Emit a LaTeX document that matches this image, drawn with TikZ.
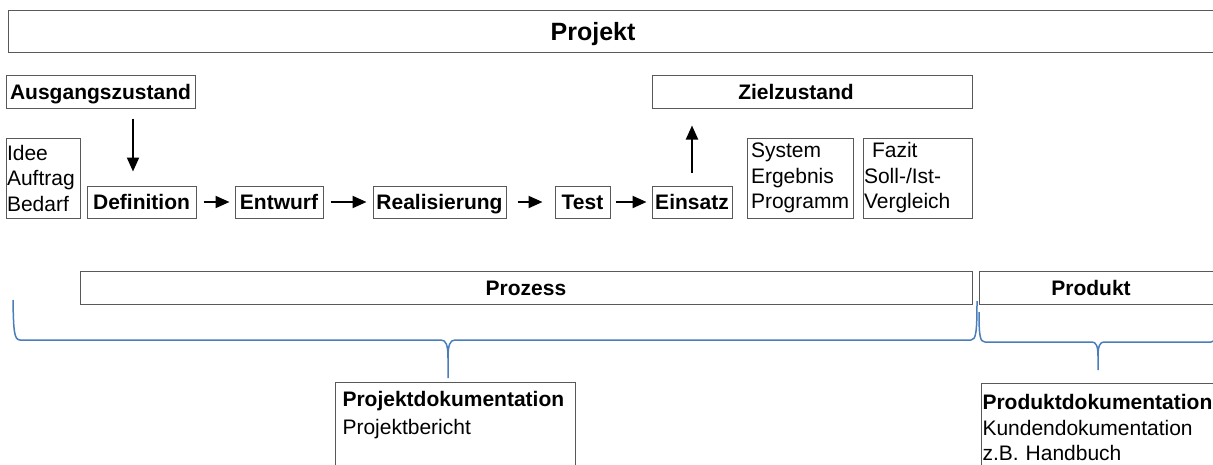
\documentclass[tikz,border=0pt]{standalone}
\usepackage{fontspec}
\setmainfont{Liberation Sans}
\usetikzlibrary{arrows.meta, calc}
\definecolor{boxgray}{RGB}{89, 89, 89}
\definecolor{braceblue}{RGB}{74, 126, 187}
\newcommand{\txt}{\fontsize{21}{25.5}\selectfont}
\newcommand{\bigtxt}{\fontsize{25}{30}\selectfont}

\tikzset{
  box/.style={draw=boxgray, line width=1pt, inner sep=0pt},
  stage/.style={box, font=\txt\bfseries, minimum height=32pt, text height=15pt, text depth=0pt},
  listbox/.style={box, font=\txt, align=left, minimum height=80pt, inner xsep=1pt},
  docbox/.style={box, font=\txt, align=left, anchor=north west, text depth=80pt},
  flow/.style={-{Triangle[length=14pt, width=12pt]}, line width=2pt, shorten <=6pt, shorten >=6pt},
  curly/.style={draw=braceblue, line width=1.5pt, line join=round},
}

\begin{document}
\begin{tikzpicture}[x=1pt, y=-1pt]
  \useasboundingbox (0,0) rectangle (1213,464);

  % Header
  \node[box, font=\bigtxt\bfseries, minimum width=1232pt, minimum height=42pt, text height=18pt, text depth=0pt] (projekt) at (624,31) {Projekt\hspace*{62pt}};

  % Start and target state
  \node[stage, minimum width=189pt, minimum height=33pt] (ausgang) at (100.5,91.5) {Ausgangszustand};
  \node[stage, minimum width=320pt, minimum height=33pt] (ziel) at (812,91.5) {Zielzustand\hspace*{32pt}};

  % Phases
  \node[stage, minimum width=109pt] (definition) at (141.5,202) {Definition};
  \node[stage, minimum width=88pt] (entwurf) at (279,202) {Entwurf};
  \node[stage, minimum width=133pt] (realisierung) at (439.5,202) {Realisierung};
  \node[stage, minimum width=55pt] (test) at (582.5,202) {Test};
  \node[stage, minimum width=80pt] (einsatz) at (692,202) {Einsatz};

  % Inputs and results
  \node[listbox, text width=72pt] (anlass) at (43,178) {Idee\\Auftrag\\Bedarf};
  \node[listbox, text width=98pt, inner xsep=4pt] (ergebnis) at (800,178) {System\\Ergebnis\\Programm};
  \node[listbox, text width=107pt] (fazit) at (917.5,178) {\hspace*{8pt}Fazit\\Soll-/Ist-\\Vergleich};

  \draw[flow, shorten <=10pt, shorten >=14pt] ([xshift=-8.5pt]definition.north |- ausgang.south) -- ([xshift=-8.5pt]definition.north);
  \draw[flow, shorten <=7pt, shorten >=5pt] (definition) -- (entwurf);
  \draw[flow, shorten <=7pt] (entwurf) -- (realisierung);
  \draw[flow, shorten <=11pt, shorten >=12pt] (realisierung) -- (test);
  \draw[flow, shorten <=5pt, shorten >=5pt] (test) -- (einsatz);
  \draw[flow, shorten <=13pt, shorten >=17pt] (einsatz.north) -- (einsatz.north |- ziel.south);

  % Process and product
  \node[stage, minimum width=892pt, minimum height=33pt] (prozess) at (526,287.5) {Prozess};
  \node[stage, minimum width=251pt, minimum height=33pt] (produkt) at (1104.5,287.5) {Produkt\hspace*{27pt}};

  % Braces
  \draw[curly] (13,300) .. controls (13.5,330) and (14,340) .. (20,340) -- (441,340) .. controls (446,340) and (448,345) .. (448,358) -- (448,378);
  \draw[curly] (448,358) .. controls (448,345) and (450,340) .. (455,340) -- (971,340) .. controls (976,340) and (977,332) .. (977,301);
  \draw[curly] (979,312) .. controls (979,336) and (980,342) .. (985,342) -- (1092,342) .. controls (1096,342) and (1098,346) .. (1098,356) -- (1098,370);
  \draw[curly] (1098,356) .. controls (1098,346) and (1100,342) .. (1104,342) -- (1211,342) .. controls (1216,342) and (1217,336) .. (1217,312);

  % Documentation
  \node[docbox, text width=226pt, inner xsep=7pt, inner ysep=9pt] (projektdok) at (335,382) {\textbf{Projektdokumentation}\\[2.5pt]Projektbericht};
  \node[docbox, text width=259pt, inner xsep=1pt, inner ysep=11pt] (produktdok) at (981,383) {\textbf{Produktdokumentation}\\Kundendokumentation\\z.B. Handbuch};
\end{tikzpicture}
\end{document}
